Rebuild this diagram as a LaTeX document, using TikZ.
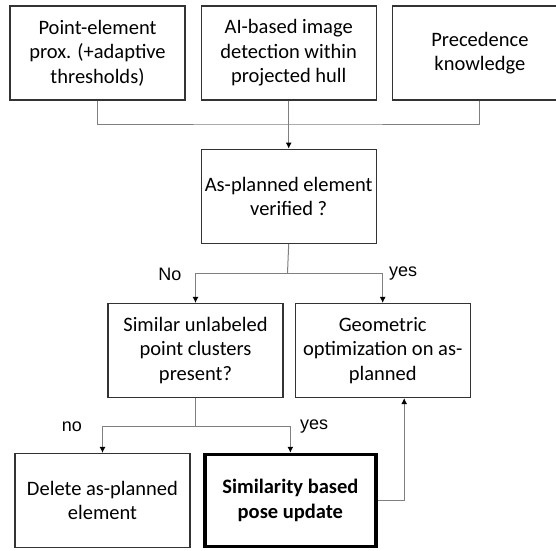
\documentclass[tikz,border=0pt]{standalone}
\usepackage{fontspec}
\setmainfont{Carlito}
\newfontfamily\lblfont{Liberation Sans}
\usetikzlibrary{positioning, arrows.meta}
\tikzset{
>={Latex[length=6pt,width=6pt,black]}, % small filled arrow heads
box/.style={draw=black!80, line width=1.2pt, align=center, inner sep=0pt, minimum width=175pt, minimum height=94pt, font=\fontsize{20.5}{24.5}\selectfont}, % one step of the flow
keybox/.style={box, draw=black, line width=3.5pt, minimum width=171pt, minimum height=92pt, font=\fontsize{20.5}{24.5}\selectfont\bfseries}, % the highlighted step
link/.style={draw=black!50, line width=1pt}, % connector lines
answer/.style={font=\lblfont\fontsize{18}{22}\selectfont}, % branch labels
}

\begin{document}
\begin{tikzpicture}[x=1pt, y=-1pt]
            \useasboundingbox (0,0) rectangle (556,550);
            \node[box] (prox) at (97.5,53) {Point-element\\prox. (+adaptive\\thresholds)};
            \node[box, right=15pt of prox] (aidet) {AI-based image\\detection within\\projected hull};
            \node[box, right=15pt of aidet] (prec) {Precedence\\knowledge};
            \node[box, below=48pt of aidet] (verif) {As-planned element\\verified ?};
            \node[box] (simil) at (195.5,350.5) {Similar unlabeled\\point clusters\\present?};
            \node[box, right=11pt of simil] (geom) {Geometric\\optimization on as-\\planned};
            \node[box] (del) at (102.5,500.5) {Delete as-planned\\element};
            \node[keybox, right=12.5pt of del] (pose) {Similarity based\\pose update};
            \coordinate (join) at (287.5,124);
            \coordinate (split) at (287.5,273);
            \coordinate (split2) at (195.5,426);
            \node[answer] (lno) at (170,274) {No};
            \node[answer] (lyes) at (403,274) {yes};
            \node[answer] (lno2) at (72,427) {no};
            \node[answer] (lyes2) at (314,427) {yes};
            \draw[link] (prox.south) |- (join) -| (prec.south);
            \draw[link, ->] (aidet.south) -- (verif.north);
            \draw[link] (verif.south) -- (split);
            \draw[link, ->] (split) -| (simil.north);
            \draw[link, ->] (split) -| (geom.north);
            \draw[link] (simil.south) -- (split2);
            \draw[link, ->] (split2) -| (del.north);
            \draw[link, ->] (split2) -| (pose.north);
            \draw[link, ->] (pose.east) -| ([xshift=21.5pt]geom.south);
\end{tikzpicture}
\end{document}
